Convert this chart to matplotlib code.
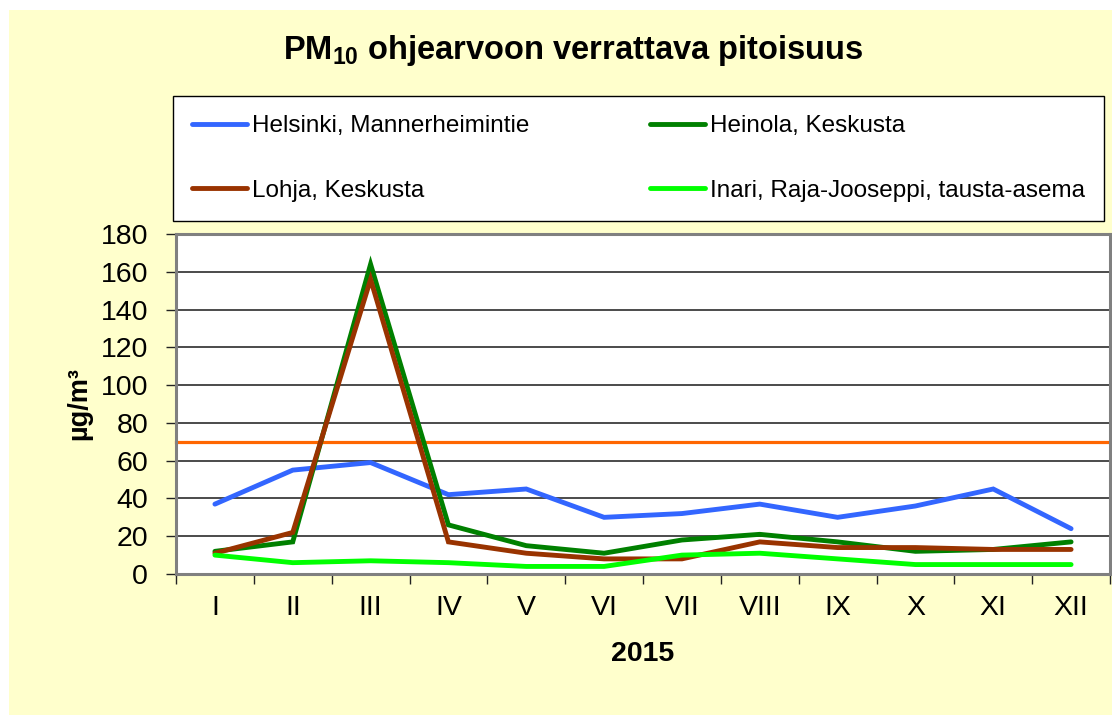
import matplotlib
matplotlib.use("Agg")
import matplotlib.pyplot as plt
from matplotlib.patches import Rectangle
import numpy as np

plt.rcParams['font.family'] = ['Liberation Sans', 'DejaVu Sans']
plt.rcParams['mathtext.fontset'] = 'custom'
plt.rcParams['mathtext.rm'] = 'Liberation Sans:bold'
plt.rcParams['mathtext.bf'] = 'Liberation Sans:bold'

# Monthly PM10 concentrations comparable to the guideline value (µg/m³), 2015
months = ["I", "II", "III", "IV", "V", "VI", "VII", "VIII", "IX", "X", "XI", "XII"]
helsinki = [37, 55, 59, 42, 45, 30, 32, 37, 30, 36, 45, 24]
heinola = [12, 17, 164, 26, 15, 11, 18, 21, 17, 12, 13, 17]
lohja = [11, 22, 156, 17, 11, 8, 8, 17, 14, 14, 13, 13]
inari = [10, 6, 7, 6, 4, 4, 10, 11, 8, 5, 5, 5]
guideline = 70

series_names = ["Helsinki, Mannerheimintie", "Heinola, Keskusta",
                "Lohja, Keskusta", "Inari, Raja-Jooseppi, tausta-asema"]
series_values = [helsinki, heinola, lohja, inari]
series_colors = ["#3366FF", "#008000", "#993300", "#00FF00"]

W, H = 1112, 715
fig = plt.figure(figsize=(W / 100, H / 100), dpi=100)
fig.patch.set_facecolor("white")
fig.patches.append(Rectangle((9 / W, 0), 1, (H - 10) / H, transform=fig.transFigure,
                             facecolor="#FFFFCC", edgecolor="none", zorder=-10))

left, right, top, bottom = 176, 1110, 234, 574
ax = fig.add_axes([left / W, (H - bottom) / H, (right - left) / W, (bottom - top) / H])
ax.set_facecolor("white")

x = np.arange(1, len(months) + 1)
ax.axhline(guideline, color="#FF6600", lw=2.3, zorder=2, clip_on=False)
handles = []
for name, vals, col in zip(series_names, series_values, series_colors):
    h, = ax.plot(x, vals, color=col, lw=3.5, solid_capstyle="round",
                 solid_joinstyle="miter", label=name, zorder=3)
    handles.append(h)

ax.set_xlim(0.5, len(months) + 0.5)
ax.set_ylim(0, 180)
ax.set_yticks(np.arange(0, 181, 20))
ax.grid(axis="y", color="#1a1a1a", lw=1.1, zorder=1)
ax.set_axisbelow(True)

ax.set_xticks(np.arange(0.5, len(months) + 1, 1.0))
ax.set_xticklabels([])
ax.set_xticks(x, minor=True)
ax.set_xticklabels(months, minor=True)
ax.tick_params(axis="x", which="major", length=7, width=1, color="#222222", direction="out")
ax.tick_params(axis="x", which="minor", length=0, pad=15, labelsize=20.5)
ax.tick_params(axis="y", length=7, width=1, color="#222222", pad=13, labelsize=20.5)

for s in ax.spines.values():
    s.set_color("#808080")
    s.set_linewidth(2.2)

ax.set_ylabel("µg/m³", fontsize=19.5, fontweight="bold", va="center")
ax.yaxis.set_label_coords(-97 / (right - left), 0.5)
ax.set_xlabel("2015", fontsize=20.5, fontweight="bold", va="center")
ax.xaxis.set_label_coords(0.5, -(654 - bottom) / (bottom - top))

fig.text(573 / W, 1 - 59 / H, r"PM$_{\mathbf{10}}$ ohjearvoon verrattava pitoisuus",
         ha="center", va="baseline", fontsize=23.5, fontweight="bold")

lx0, lx1, ly0, ly1 = 173, 1104, 96, 223
order = [0, 2, 1, 3]
leg = fig.legend([handles[i] for i in order], [series_names[i] for i in order],
                 loc="upper left",
                 bbox_to_anchor=(lx0 / W, 1 - ly1 / H, (lx1 - lx0) / W, (ly1 - ly0) / H),
                 mode="expand", ncol=2, fontsize=17.5, frameon=True, fancybox=False,
                 framealpha=1, borderaxespad=0, borderpad=0.8, handlelength=2.25,
                 handletextpad=0.2, labelspacing=1.75, columnspacing=1.0)
leg.get_frame().set_edgecolor("black")
leg.get_frame().set_linewidth(1.0)
for lh in leg.get_lines():
    lh.set_linewidth(3.5)

fig.savefig("out.png", dpi=100)
